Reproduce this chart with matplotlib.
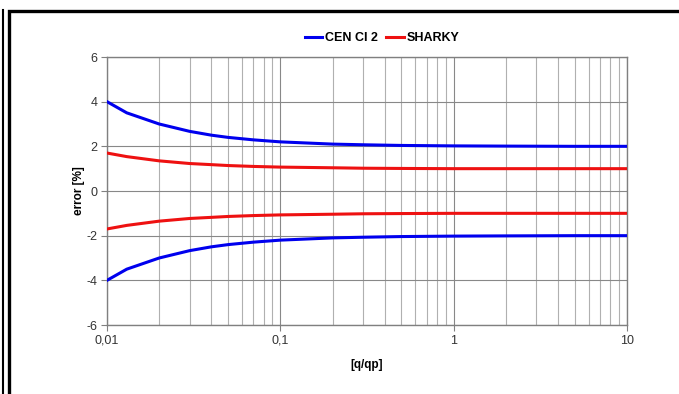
import matplotlib
matplotlib.use("Agg")
import matplotlib.pyplot as plt
from matplotlib.lines import Line2D
from matplotlib.ticker import FixedLocator, LogLocator, NullFormatter

plt.rcParams['font.family'] = ['Liberation Sans', 'DejaVu Sans']
plt.rcParams['axes.unicode_minus'] = False

# data
q = [0.01, 0.013, 0.02, 0.03, 0.04, 0.05, 0.07, 0.1, 0.2, 0.3, 0.5, 1, 2, 5, 10]
cen_upper = [4.0, 3.5, 3.0, 2.67, 2.5, 2.4, 2.29, 2.2, 2.1, 2.07, 2.04, 2.02, 2.01, 2.0, 2.0]
cen_lower = [-v for v in cen_upper]
sharky_upper = [1.7, 1.54, 1.35, 1.23, 1.18, 1.14, 1.1, 1.07, 1.04, 1.02, 1.01, 1.0, 1.0, 1.0, 1.0]
sharky_lower = [-v for v in sharky_upper]
xticks = [0.01, 0.1, 1, 10]
xticklabels = ["0,01", "0,1", "1", "10"]
yticks = [-6, -4, -2, 0, 2, 4, 6]

fig = plt.figure(figsize=(6.79, 3.94), dpi=100)
ax = fig.add_axes([107 / 679, 1 - 325 / 394, 520 / 679, 268 / 394])

blue = "#0000ee"
red = "#ee1111"
ax.plot(q, cen_upper, color=blue, lw=2.2, label="CEN CI 2", zorder=3)
ax.plot(q, cen_lower, color=blue, lw=2.2, zorder=3)
ax.plot(q, sharky_upper, color=red, lw=2.2, label="SHARKY", zorder=3)
ax.plot(q, sharky_lower, color=red, lw=2.2, zorder=3)

ax.set_xscale("log")
ax.set_xlim(0.01, 10)
ax.set_ylim(-6, 6)
ax.xaxis.set_major_locator(FixedLocator(xticks))
ax.set_xticklabels(xticklabels)
ax.xaxis.set_minor_locator(LogLocator(base=10, subs=range(2, 10)))
ax.xaxis.set_minor_formatter(NullFormatter())
ax.set_yticks(yticks)

ax.grid(which="major", axis="both", color="#888888", lw=0.8)
ax.grid(which="minor", axis="x", color="#b0b0b0", lw=0.8)
ax.set_axisbelow(True)

for s in ax.spines.values():
    s.set_color("#808080")
    s.set_linewidth(1.0)
ax.tick_params(axis="both", which="major", length=4, color="#808080",
               labelsize=9, labelcolor="#333333", pad=3)
ax.tick_params(axis="x", which="minor", length=0)

ax.set_xlabel("[q/qp]", fontsize=8.5, fontweight="bold", labelpad=9)
ax.set_ylabel("error [%]", fontsize=8.5, fontweight="bold", labelpad=1)

leg = ax.legend(loc="center", bbox_to_anchor=(382 / 679, 1 - 38 / 394),
                bbox_transform=fig.transFigure, ncol=2, frameon=False,
                handlelength=1.4, handletextpad=0.2, columnspacing=0.7,
                prop={"size": 9, "weight": "bold"})

# outer frame pieces
fig.add_artist(Line2D([2.5 / 679, 2.5 / 679], [0, 1 - 10 / 394], color="black",
                      lw=1.5, transform=fig.transFigure))
fig.add_artist(Line2D([8.5 / 679, 8.5 / 679, 1], [0, 1 - 11 / 394, 1 - 11 / 394],
                      color="black", lw=2.4, transform=fig.transFigure,
                      solid_joinstyle="miter"))

fig.savefig("out.png", dpi=100)
